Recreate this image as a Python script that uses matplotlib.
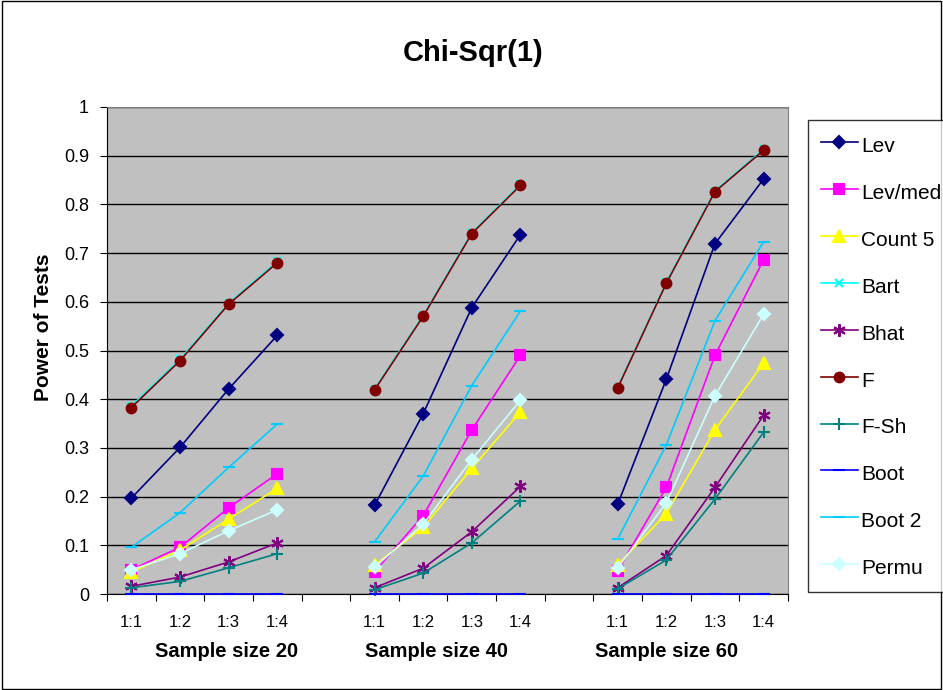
import numpy as np
import matplotlib.pyplot as plt
from matplotlib.patches import Rectangle

plt.rcParams['font.family'] = ['Liberation Sans', 'DejaVu Sans']

# Category labels for each sample size group
ratios = ['1:1', '1:2', '1:3', '1:4']
groups = ['Sample size 20', 'Sample size 40', 'Sample size 60']

# Power values, 4 ratios per group, groups in order 20 / 40 / 60
lev = [0.197, 0.301, 0.421, 0.531, 0.182, 0.370, 0.588, 0.738, 0.184, 0.441, 0.719, 0.852]
lev_med = [0.050, 0.096, 0.177, 0.247, 0.046, 0.161, 0.337, 0.490, 0.048, 0.219, 0.490, 0.686]
count5 = [0.045, 0.090, 0.154, 0.217, 0.059, 0.137, 0.258, 0.374, 0.060, 0.165, 0.337, 0.474]
bart = [0.386, 0.482, 0.597, 0.683, 0.421, 0.572, 0.742, 0.841, 0.424, 0.640, 0.828, 0.913]
bhat = [0.016, 0.035, 0.066, 0.105, 0.013, 0.053, 0.128, 0.221, 0.013, 0.079, 0.219, 0.367]
f_test = [0.383, 0.479, 0.595, 0.680, 0.419, 0.570, 0.740, 0.839, 0.423, 0.638, 0.826, 0.911]
f_sh = [0.013, 0.026, 0.054, 0.083, 0.009, 0.043, 0.105, 0.191, 0.011, 0.070, 0.195, 0.332]
boot = [0.0, 0.0, 0.0, 0.0, 0.0, 0.0, 0.0, 0.0, 0.0, 0.0, 0.0, 0.0]
boot2 = [0.096, 0.167, 0.260, 0.349, 0.107, 0.242, 0.428, 0.581, 0.113, 0.306, 0.561, 0.723]
permu = [0.050, 0.083, 0.130, 0.173, 0.055, 0.143, 0.276, 0.398, 0.054, 0.187, 0.407, 0.574]

series = [
    ('Lev', lev, '#000080', 'D', 6),
    ('Lev/med', lev_med, '#FF00FF', 's', 7),
    ('Count 5', count5, '#FFFF00', '^', 8),
    ('Bart', bart, '#00FFFF', 'x', 6),
    ('Bhat', bhat, '#800080', (6, 2, 0), 9),
    ('F', f_test, '#800000', 'o', 7),
    ('F-Sh', f_sh, '#008080', '+', 9),
    ('Boot', boot, '#0000FF', '_', 8),
    ('Boot 2', boot2, '#00CCFF', '_', 9),
    ('Permu', permu, '#CCFFFF', 'D', 6),
]


def with_gaps(vals):
    # insert an empty category after each group so the lines break
    out = []
    for g in range(3):
        out += list(vals[g * 4:(g + 1) * 4])
        if g < 2:
            out.append(np.nan)
    return np.array(out, dtype=float)


labels = ratios + [''] + ratios + [''] + ratios
x = np.arange(len(labels))

fig = plt.figure(figsize=(9.43, 6.9), dpi=100)
fig.patches.append(Rectangle((0.002, 0.002), 0.996, 0.996, transform=fig.transFigure,
                             fill=False, edgecolor='black', linewidth=1))
ax = fig.add_axes([0.1135, 0.139, 0.722, 0.706])
ax.set_facecolor('#C0C0C0')

for name, vals, color, marker, ms in series:
    ax.plot(x, with_gaps(vals), color=color, marker=marker, markersize=ms,
            markeredgecolor=color, markeredgewidth=1.5, linewidth=1.2,
            label=name, clip_on=False, zorder=3)

ax.set_xlim(-0.5, len(labels) - 0.5)
ax.set_ylim(0, 1)
ax.set_yticks(np.arange(0, 1.01, 0.1))
ax.set_yticklabels(['0', '0.1', '0.2', '0.3', '0.4', '0.5', '0.6', '0.7', '0.8', '0.9', '1'],
                   fontsize=13)
ax.yaxis.grid(True, color='black', linewidth=1)
ax.set_axisbelow(True)

# tick marks between categories, labels on the category centres
ax.set_xticks(np.arange(-0.5, len(labels), 1.0))
ax.set_xticklabels([])
ax.set_xticks(x, minor=True)
ax.set_xticklabels(labels, minor=True, fontsize=12)
ax.tick_params(axis='x', which='minor', length=0, pad=15)
ax.tick_params(axis='x', which='major', length=5, direction='out')
ax.tick_params(axis='y', length=5, direction='out', pad=8)

for side in ['top', 'right']:
    ax.spines[side].set_color('#808080')
for side in ['left', 'bottom']:
    ax.spines[side].set_color('black')

group_x = [1.95, 6.27, 11.0]
for gx, g in zip(group_x, groups):
    ax.text(gx, -0.117, g, ha='center', va='center', fontsize=14.5,
            fontweight='bold', transform=ax.get_xaxis_transform())

ax.set_ylabel('Power of Tests', fontsize=15, fontweight='bold')
ax.yaxis.set_label_coords(-0.08, 0.548)
fig.text(0.5016, 0.923, 'Chi-Sqr(1)', ha='center', va='center', fontsize=21,
         fontweight='bold')

leg = fig.legend(loc='upper left', bbox_to_anchor=(0.857, 0.826), fontsize=15,
                 frameon=True, fancybox=False, edgecolor='black', labelspacing=1.03,
                 handlelength=1.78, handleheight=1.5, handletextpad=0.15,
                 borderpad=0.6, borderaxespad=0)
leg.get_frame().set_linewidth(1)

fig.savefig('out.png', dpi=100)
